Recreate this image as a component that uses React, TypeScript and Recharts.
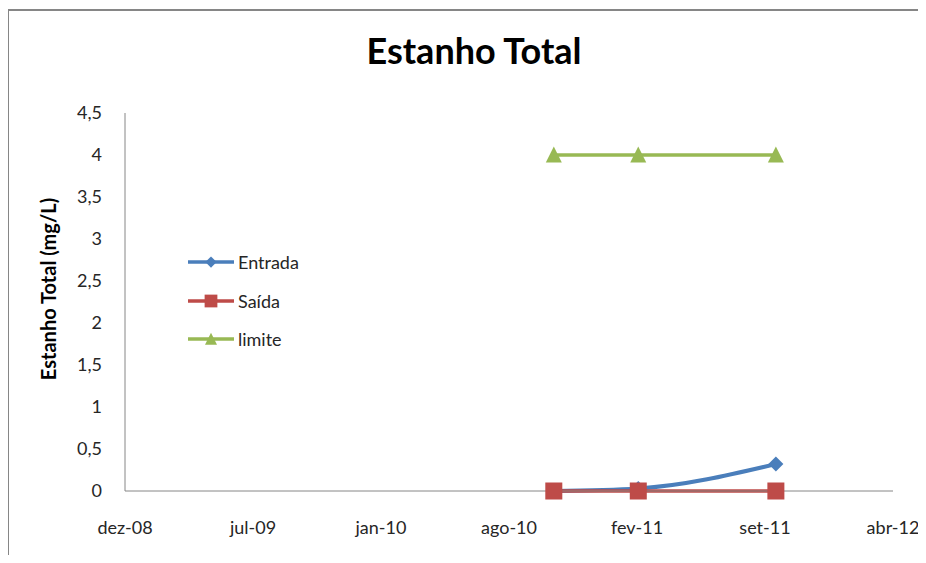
import React from "react";
import { LineChart, Line, XAxis, YAxis } from "recharts";

// sample dates and measurements (mg/L)
const sampleDates = ["2010-10-19", "2011-02-28", "2011-10-01"];
const entrada = [0, 0.03, 0.32];
const saida = [0, 0, 0];
const limite = [4, 4, 4];

// date axis ticks, every 200 days
const xTicks = [
    "2008-12-18",
    "2009-07-06",
    "2010-01-22",
    "2010-08-10",
    "2011-02-26",
    "2011-09-14",
    "2012-04-01",
];
const yTicks = [0, 0.5, 1, 1.5, 2, 2.5, 3, 3.5, 4, 4.5];

const monthNames = ["jan", "fev", "mar", "abr", "mai", "jun", "jul", "ago", "set", "out", "nov", "dez"];

const BLUE = "#4a7ebb";
const RED = "#be4b48";
const GREEN = "#98b954";
const AXIS = "#868686";
const FONT = "Lato, 'Open Sans', sans-serif";

const toTime = (d: string) => new Date(d).getTime();

const data = sampleDates.map((d, i) => ({
    t: toTime(d),
    entrada: entrada[i],
    saida: saida[i],
    limite: limite[i],
}));

const xTickValues = xTicks.map(toTime);

function formatMonth(t: number) {
    const d = new Date(t);
    const yy = String(d.getUTCFullYear() % 100).padStart(2, "0");
    return `${monthNames[d.getUTCMonth()]}-${yy}`;
}

function Diamond({ cx, cy, fill }: any) {
    if (cx == null || cy == null) return null;
    const r = 7.5;
    return <polygon points={`${cx},${cy - r} ${cx + r},${cy} ${cx},${cy + r} ${cx - r},${cy}`} fill={fill} />;
}

function Square({ cx, cy, fill }: any) {
    if (cx == null || cy == null) return null;
    const s = 17;
    return <rect x={cx - s / 2} y={cy - s / 2} width={s} height={s} fill={fill} />;
}

function Triangle({ cx, cy, fill }: any) {
    if (cx == null || cy == null) return null;
    const w = 16;
    const h = 15;
    return (
        <polygon
            points={`${cx},${cy - h / 2 - 1} ${cx + w / 2},${cy + h / 2} ${cx - w / 2},${cy + h / 2}`}
            fill={fill}
        />
    );
}

const legendItems = [
    { label: "Entrada", color: BLUE, Marker: Diamond },
    { label: "Saída", color: RED, Marker: Square },
    { label: "limite", color: GREEN, Marker: Triangle },
];

function LegendBox() {
    return (
        <div style={{ fontFamily: FONT, fontSize: 18, color: "#262626" }}>
            {legendItems.map(({ label, color, Marker }) => (
                <div key={label} style={{ display: "flex", alignItems: "center", height: 38.5 }}>
                    <svg width={48} height={20}>
                        <line x1={1} y1={10} x2={47} y2={10} stroke={color} strokeWidth={3.5} />
                        <g transform="translate(24,10) scale(0.75) translate(-24,-10)">
                            <Marker cx={24} cy={10} fill={color} />
                        </g>
                    </svg>
                    <span style={{ marginLeft: 3 }}>{label}</span>
                </div>
            ))}
        </div>
    );
}

export default function App() {
    return (
        <div style={{ position: "relative", width: 926, height: 563, margin: -8, background: "#fff", overflow: "hidden" }}>
            <div
                style={{
                    position: "absolute",
                    left: 7,
                    top: 9,
                    width: 940,
                    height: 580,
                    borderTop: `2px solid ${AXIS}`,
                    borderLeft: `2px solid ${AXIS}`,
                }}
            />
            <div
                style={{
                    position: "absolute",
                    left: 0,
                    width: 948,
                    top: 28,
                    textAlign: "center",
                    fontFamily: FONT,
                    fontWeight: 700,
                    fontSize: 36,
                    color: "#000",
                }}
            >
                Estanho Total
            </div>
            <div
                style={{
                    position: "absolute",
                    left: 48,
                    top: 289,
                    transform: "translate(-50%, -50%) rotate(-90deg)",
                    whiteSpace: "nowrap",
                    fontFamily: FONT,
                    fontWeight: 700,
                    fontSize: 20,
                    color: "#000",
                }}
            >
                Estanho Total (mg/L)
            </div>
            <div style={{ position: "absolute", left: 0, top: 0 }}>
                <LineChart width={926} height={563} data={data} margin={{ top: 113, right: 33, bottom: 42, left: 65 }}>
                    <XAxis
                        dataKey="t"
                        type="number"
                        domain={[xTickValues[0], xTickValues[xTickValues.length - 1]]}
                        ticks={xTickValues}
                        tickFormatter={formatMonth}
                        height={30}
                        axisLine={{ stroke: AXIS }}
                        tickLine={false}
                        tickSize={0}
                        tickMargin={30}
                        tick={{ fill: "#262626", fontSize: 18, fontFamily: FONT }}
                        interval={0}
                    />
                    <YAxis
                        domain={[0, 4.5]}
                        ticks={yTicks}
                        width={60}
                        tickFormatter={(v: number) => String(v).replace(".", ",")}
                        axisLine={{ stroke: AXIS }}
                        tickLine={false}
                        tickSize={0}
                        tickMargin={23}
                        tick={{ fill: "#262626", fontSize: 18, fontFamily: FONT }}
                        interval={0}
                    />
                    <Line
                        dataKey="entrada"
                        type="monotone"
                        stroke={BLUE}
                        strokeWidth={4}
                        dot={<Diamond fill={BLUE} />}
                        activeDot={false}
                        isAnimationActive={false}
                    />
                    <Line
                        dataKey="saida"
                        type="monotone"
                        stroke={RED}
                        strokeWidth={3.5}
                        dot={<Square fill={RED} />}
                        activeDot={false}
                        isAnimationActive={false}
                    />
                    <Line
                        dataKey="limite"
                        type="monotone"
                        stroke={GREEN}
                        strokeWidth={3.5}
                        dot={<Triangle fill={GREEN} />}
                        activeDot={false}
                        isAnimationActive={false}
                    />
                </LineChart>
            </div>
            <div style={{ position: "absolute", left: 187, top: 243 }}>
                <LegendBox />
            </div>
        </div>
    );
}
